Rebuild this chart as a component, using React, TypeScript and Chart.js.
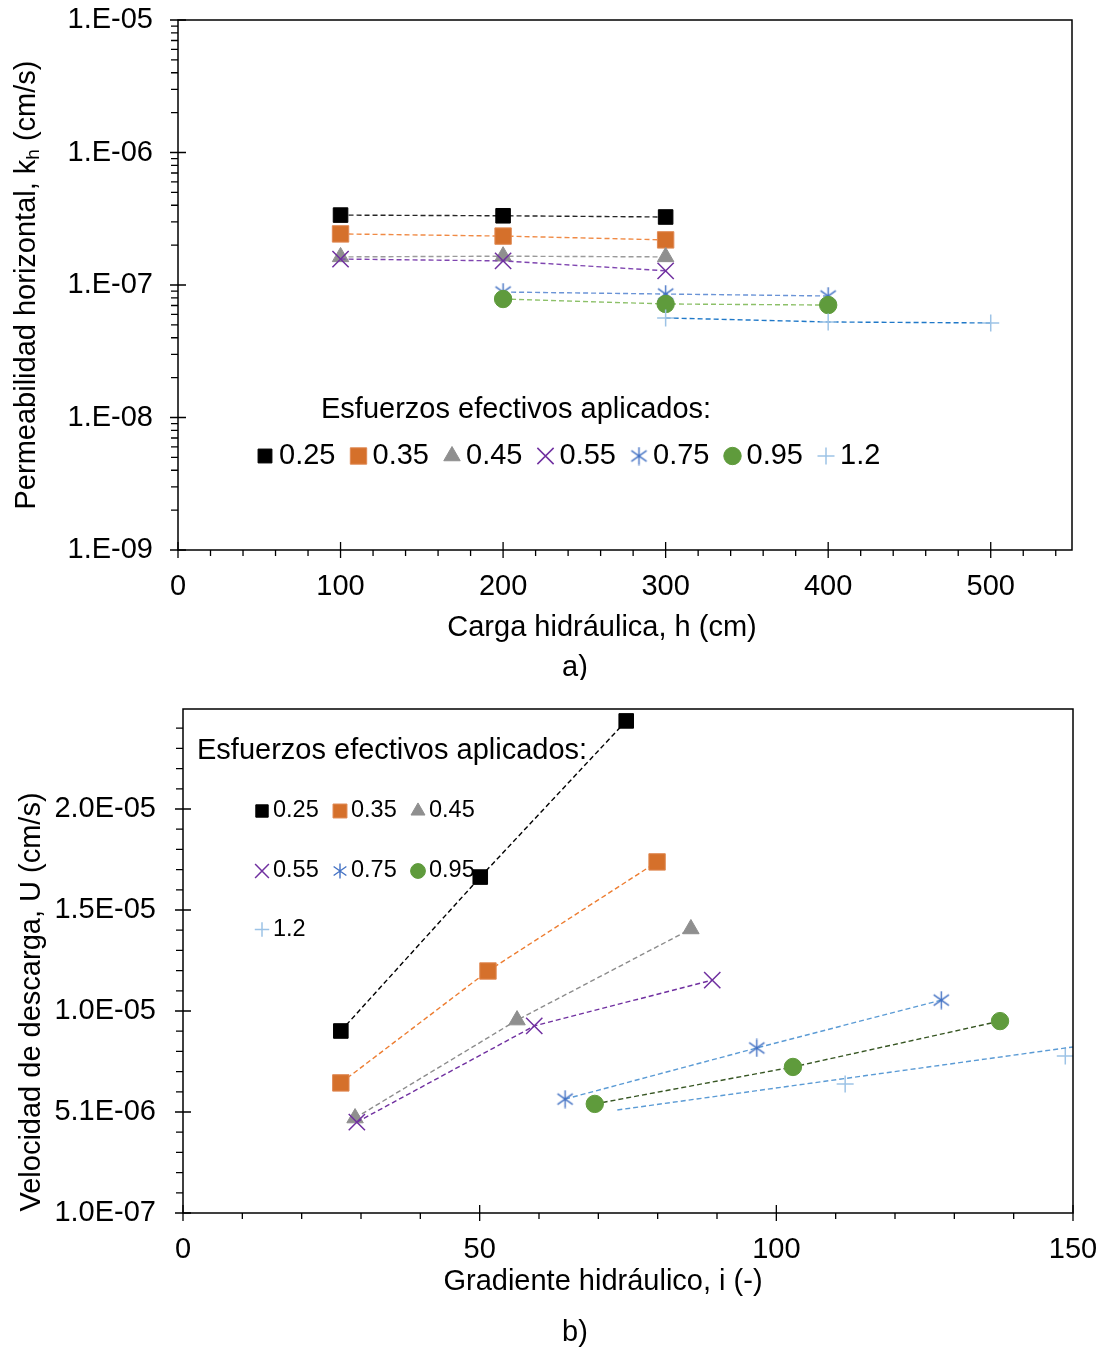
import React, { useEffect, useRef } from 'react';
import { Chart, registerables } from 'chart.js';
import { drawPoint } from 'chart.js/helpers';

Chart.register(...registerables);

const FONT = '"Liberation Sans", Arial, sans-serif';

// ---------------- Data: chart a) ----------------
const stressLabels = ['0.25', '0.35', '0.45', '0.55', '0.75', '0.95', '1.2'];
const headTicks = [0, 100, 200, 300, 400, 500];
const kTicks = [1e-9, 1e-8, 1e-7, 1e-6, 1e-5];

const h025 = [100, 200, 300];
const kh025 = [3.37e-7, 3.33e-7, 3.26e-7];
const h035 = [100, 200, 300];
const kh035 = [2.43e-7, 2.34e-7, 2.19e-7];
const h045 = [100, 200, 300];
const kh045 = [1.63e-7, 1.65e-7, 1.63e-7];
const h055 = [100, 200, 300];
const kh055 = [1.57e-7, 1.52e-7, 1.28e-7];
const h075 = [200, 300, 400];
const kh075 = [8.85e-8, 8.55e-8, 8.26e-8];
const h095 = [200, 300, 400];
const kh095 = [7.84e-8, 7.19e-8, 7.06e-8];
const h12 = [300, 400, 500];
const kh12 = [5.64e-8, 5.26e-8, 5.17e-8];

// ---------------- Data: chart b) ----------------
const gradTicks = [0, 50, 100, 150];
const uTicks = [1e-7, 5.1e-6, 1.01e-5, 1.51e-5, 2.01e-5];

const i025 = [26.6, 50.1, 74.7];
const U025 = [9.11e-6, 1.673e-5, 2.446e-5];
const i035 = [26.6, 51.4, 79.9];
const U035 = [6.54e-6, 1.208e-5, 1.748e-5];
const i045 = [29.0, 56.3, 85.6];
const U045 = [4.8e-6, 9.65e-6, 1.416e-5];
const i055 = [29.3, 59.2, 89.2];
const U055 = [4.6e-6, 9.36e-6, 1.163e-5];
const i075 = [64.4, 96.7, 127.8];
const U075 = [5.74e-6, 8.27e-6, 1.064e-5];
const i095 = [69.4, 102.8, 137.7];
const U095 = [5.5e-6, 7.33e-6, 9.6e-6];
const i12 = [111.6, 148.7];
const U12 = [6.49e-6, 7.87e-6];
const i12Line = [73.2, 150];
const U12Line = [5.2e-6, 8.32e-6];

// ---------------- helpers ----------------
const pts = (xs: number[], ys: number[]) => xs.map((x, i) => ({ x, y: ys[i] }));

function makeAsterisk(size: number, color: string, lw: number) {
  const c = document.createElement('canvas');
  c.width = size;
  c.height = size;
  const g = c.getContext('2d')!;
  g.strokeStyle = color;
  g.lineWidth = lw;
  const m = size / 2;
  const r = size / 2 - 0.5;
  const dx = r * 0.85;
  const dy = r * 0.6;
  g.beginPath();
  g.moveTo(m, m - r);
  g.lineTo(m, m + r);
  g.moveTo(m - dx, m - dy);
  g.lineTo(m + dx, m + dy);
  g.moveTo(m + dx, m - dy);
  g.lineTo(m - dx, m + dy);
  g.stroke();
  return c;
}

type Mk = { pointStyle: any; radius: number; fill: string; stroke: string; bw: number };

const MK_COLORS = ['#000000', '#D5702B', '#8F8F8F', '#7030A0', '#4472C4', '#5F9B3C', '#9DC3E6'];

function markers(scale: number): Mk[] {
  return [
    { pointStyle: 'rect', radius: 10.3 * scale, fill: MK_COLORS[0], stroke: MK_COLORS[0], bw: 1 },
    { pointStyle: 'rect', radius: 11.6 * scale, fill: MK_COLORS[1], stroke: '#E08A55', bw: 1 },
    { pointStyle: 'triangle', radius: 9.5 * scale, fill: MK_COLORS[2], stroke: MK_COLORS[2], bw: 1 },
    { pointStyle: 'crossRot', radius: 11.5 * scale, fill: 'rgba(0,0,0,0)', stroke: MK_COLORS[3], bw: 1.5 },
    { pointStyle: makeAsterisk(Math.round(19 * scale), MK_COLORS[4], 1.4), radius: 9, fill: MK_COLORS[4], stroke: MK_COLORS[4], bw: 0 },
    { pointStyle: 'circle', radius: 8.7 * scale, fill: MK_COLORS[5], stroke: MK_COLORS[5], bw: 1 },
    { pointStyle: 'cross', radius: 8.5 * scale, fill: 'rgba(0,0,0,0)', stroke: MK_COLORS[6], bw: 1.5 },
  ];
}

function seriesDs(label: string, xs: number[], ys: number[], mk: Mk, lineColor: string, order: number) {
  return {
    label,
    data: pts(xs, ys),
    showLine: true,
    borderColor: lineColor,
    borderWidth: 1.4,
    borderDash: [5, 3],
    backgroundColor: mk.fill,
    pointStyle: mk.pointStyle,
    pointRadius: mk.radius,
    pointBackgroundColor: mk.fill,
    pointBorderColor: mk.stroke,
    pointBorderWidth: mk.bw,
    fill: false,
    order,
  };
}

function fmtLog(v: number) {
  const e = Math.round(Math.log10(v));
  const m = Math.round(v / Math.pow(10, e));
  const s = e < 0 ? '-' : '+';
  return `${m}.E${s}${String(Math.abs(e)).padStart(2, '0')}`;
}

function fmtSci(v: number) {
  const t = v.toExponential(1);
  const [mant, exp] = t.split('e');
  const n = parseInt(exp, 10);
  return `${mant}E${n < 0 ? '-' : '+'}${String(Math.abs(n)).padStart(2, '0')}`;
}

type TextPart = { text: string; sub?: boolean };
type LegendItem = { label: string; x: number; y: number; mk: Mk };
type Decor = {
  xMajor: number[];
  xMinor: number[];
  yMajor: number[];
  yMinor: number[];
  yTitle: TextPart[];
  yTitleX: number;
  yTitleY: number;
  xTitle: string;
  xTitleX: number;
  xTitleY: number;
  tag: string;
  tagX: number;
  tagY: number;
  legTitle: string;
  legTitleX: number;
  legTitleY: number;
  legItems: LegendItem[];
  legFont: number;
  legLabelOffset: number;
};

function decorPlugin(d: Decor) {
  return {
    id: 'decor',
    afterDraw(chart: any) {
      const { ctx, chartArea: a } = chart;
      const xs = chart.scales.x;
      const ys = chart.scales.y;
      ctx.save();
      ctx.strokeStyle = '#000';
      ctx.lineWidth = 1.3;
      ctx.beginPath();
      for (const v of d.xMajor) {
        const p = xs.getPixelForValue(v);
        ctx.moveTo(p, a.bottom - 8);
        ctx.lineTo(p, a.bottom + 8);
      }
      for (const v of d.xMinor) {
        const p = xs.getPixelForValue(v);
        ctx.moveTo(p, a.bottom);
        ctx.lineTo(p, a.bottom + 6);
      }
      for (const v of d.yMajor) {
        const p = ys.getPixelForValue(v);
        ctx.moveTo(a.left - 8, p);
        ctx.lineTo(a.left + 8, p);
      }
      for (const v of d.yMinor) {
        const p = ys.getPixelForValue(v);
        ctx.moveTo(a.left - 7, p);
        ctx.lineTo(a.left, p);
      }
      ctx.stroke();
      ctx.lineWidth = 1.5;
      ctx.strokeRect(a.left, a.top, a.right - a.left, a.bottom - a.top);

      ctx.fillStyle = '#000';
      // y title (rotated)
      ctx.save();
      ctx.translate(d.yTitleX, d.yTitleY);
      ctx.rotate(-Math.PI / 2);
      ctx.textBaseline = 'middle';
      ctx.textAlign = 'left';
      const mainF = `29px ${FONT}`;
      const subF = `19px ${FONT}`;
      let total = 0;
      for (const part of d.yTitle) {
        ctx.font = part.sub ? subF : mainF;
        total += ctx.measureText(part.text).width;
      }
      let cx = -total / 2;
      for (const part of d.yTitle) {
        ctx.font = part.sub ? subF : mainF;
        ctx.fillText(part.text, cx, part.sub ? 7 : 0);
        cx += ctx.measureText(part.text).width;
      }
      ctx.restore();

      // x title and tag
      ctx.font = `29px ${FONT}`;
      ctx.textAlign = 'center';
      ctx.textBaseline = 'middle';
      ctx.fillText(d.xTitle, d.xTitleX, d.xTitleY);
      ctx.fillText(d.tag, d.tagX, d.tagY);

      // legend
      ctx.textAlign = 'left';
      ctx.fillText(d.legTitle, d.legTitleX, d.legTitleY);
      ctx.font = `${d.legFont}px ${FONT}`;
      for (const it of d.legItems) {
        ctx.save();
        ctx.fillStyle = it.mk.fill;
        ctx.strokeStyle = it.mk.stroke;
        ctx.lineWidth = it.mk.bw || 1;
        drawPoint(ctx, { pointStyle: it.mk.pointStyle, rotation: 0, radius: it.mk.radius, borderWidth: it.mk.bw }, it.x, it.y);
        ctx.restore();
        ctx.fillStyle = '#000';
        ctx.fillText(it.label, it.x + d.legLabelOffset, it.y);
      }
      ctx.restore();
    },
  };
}

function axisFont() {
  return { family: FONT, size: 29 };
}

// ---------------- Chart a) ----------------
function configA() {
  const mk = markers(1);
  const lines = ['#262626', '#F08A45', '#9A9A9A', '#7F45B0', '#6A93D6', '#8CC068', '#1F78C8'];
  const xsArr = [h025, h035, h045, h055, h075, h095, h12];
  const ysArr = [kh025, kh035, kh045, kh055, kh075, kh095, kh12];
  const datasets = stressLabels.map((l, i) => seriesDs(l, xsArr[i], ysArr[i], mk[i], lines[i], 20 - i));

  const xMinor: number[] = [];
  for (let v = 20; v <= 540; v += 20) if (v % 100 !== 0) xMinor.push(v);
  const yMinor: number[] = [];
  for (let e = -9; e < -5; e++) for (let m = 2; m <= 9; m++) yMinor.push(m * Math.pow(10, e));

  const lmk = markers(1);
  lmk[0] = { ...lmk[0], radius: 9.8 };
  const legItems: LegendItem[] = stressLabels.map((l, i) => ({ label: l, x: 265 + i * 93.5, y: 456, mk: lmk[i] }));

  const decor = decorPlugin({
    xMajor: headTicks,
    xMinor,
    yMajor: kTicks,
    yMinor,
    yTitle: [{ text: 'Permeabilidad horizontal, k' }, { text: 'h', sub: true }, { text: ' (cm/s)' }],
    yTitleX: 27,
    yTitleY: 285,
    xTitle: 'Carga hidráulica, h (cm)',
    xTitleX: 602,
    xTitleY: 628,
    tag: 'a)',
    tagX: 575,
    tagY: 668,
    legTitle: 'Esfuerzos efectivos aplicados:',
    legTitleX: 321,
    legTitleY: 410,
    legItems,
    legFont: 29,
    legLabelOffset: 14,
  });

  return {
    type: 'scatter' as const,
    data: { datasets },
    options: {
      responsive: false,
      animation: false as const,
      devicePixelRatio: 1,
      events: [],
      layout: { padding: { left: 0, top: 20, right: 30, bottom: 0 } },
      plugins: { legend: { display: false }, tooltip: { enabled: false } },
      scales: {
        x: {
          type: 'linear' as const,
          min: 0,
          max: 550,
          afterBuildTicks: (s: any) => {
            s.ticks = headTicks.map((v) => ({ value: v }));
          },
          afterFit: (s: any) => {
            s.height = 130;
            s.paddingLeft = 0;
            s.paddingRight = 0;
          },
          grid: { display: false, drawTicks: false },
          border: { display: false },
          ticks: { font: axisFont(), color: '#000', padding: 20, maxRotation: 0, autoSkip: false },
        },
        y: {
          type: 'logarithmic' as const,
          min: 1e-9,
          max: 1e-5,
          afterBuildTicks: (s: any) => {
            s.ticks = kTicks.map((v) => ({ value: v }));
          },
          afterFit: (s: any) => {
            s.width = 178;
            s.paddingTop = 0;
            s.paddingBottom = 0;
          },
          grid: { display: false, drawTicks: false },
          border: { display: false },
          ticks: { font: axisFont(), color: '#000', padding: 25, autoSkip: false, callback: (v: any) => fmtLog(Number(v)) },
        },
      },
    },
    plugins: [decor],
  };
}

// ---------------- Chart b) ----------------
function configB() {
  const mk = markers(1);
  const lines = ['#000000', '#ED7D31', '#8C8C8C', '#7030A0', '#5B9BD5', '#375623', '#5B9BD5'];
  const xsArr = [i025, i035, i045, i055, i075, i095, i12];
  const ysArr = [U025, U035, U045, U055, U075, U095, U12];
  const datasets: any[] = stressLabels.map((l, i) => seriesDs(l, xsArr[i], ysArr[i], mk[i], lines[i], 20 - i));
  // series 1.2: markers only, plus its separate dashed line
  datasets[6].showLine = false;
  datasets.push({
    label: '1.2 línea',
    data: pts(i12Line, U12Line),
    showLine: true,
    borderColor: '#5B9BD5',
    borderWidth: 1.4,
    borderDash: [5, 3],
    pointRadius: 0,
    fill: false,
    order: 12,
  });

  const xMinor: number[] = [];
  for (let v = 10; v < 150; v += 10) if (v % 50 !== 0) xMinor.push(v);
  const yMinor: number[] = [];
  for (let k = 1; k <= 24; k++) if (k % 5 !== 0) yMinor.push(1e-7 + k * 1e-6);

  const lmk = markers(0.85);
  const colX = [262, 340, 418];
  const rowY = [131, 191, 249.5];
  const legItems: LegendItem[] = stressLabels.map((l, i) => ({
    label: l,
    x: colX[i % 3],
    y: rowY[Math.floor(i / 3)],
    mk: lmk[i],
  }));

  const decor = decorPlugin({
    xMajor: gradTicks,
    xMinor,
    yMajor: uTicks,
    yMinor,
    yTitle: [{ text: 'Velocidad de descarga, U (cm/s)' }],
    yTitleX: 32,
    yTitleY: 322,
    xTitle: 'Gradiente hidráulico, i (-)',
    xTitleX: 603,
    xTitleY: 602,
    tag: 'b)',
    tagX: 575,
    tagY: 653,
    legTitle: 'Esfuerzos efectivos aplicados:',
    legTitleX: 197,
    legTitleY: 71,
    legItems,
    legFont: 23.5,
    legLabelOffset: 11,
  });

  return {
    type: 'scatter' as const,
    data: { datasets },
    options: {
      responsive: false,
      animation: false as const,
      devicePixelRatio: 1,
      events: [],
      layout: { padding: { left: 0, top: 29, right: 29, bottom: 0 } },
      plugins: { legend: { display: false }, tooltip: { enabled: false } },
      scales: {
        x: {
          type: 'linear' as const,
          min: 0,
          max: 150,
          afterBuildTicks: (s: any) => {
            s.ticks = gradTicks.map((v) => ({ value: v }));
          },
          afterFit: (s: any) => {
            s.height = 135;
            s.paddingLeft = 0;
            s.paddingRight = 0;
          },
          grid: { display: false, drawTicks: false },
          border: { display: false },
          ticks: { font: axisFont(), color: '#000', padding: 20, maxRotation: 0, autoSkip: false },
        },
        y: {
          type: 'linear' as const,
          min: 1e-7,
          max: 2.505e-5,
          afterBuildTicks: (s: any) => {
            s.ticks = uTicks.map((v) => ({ value: v }));
          },
          afterFit: (s: any) => {
            s.width = 183;
            s.paddingTop = 0;
            s.paddingBottom = 0;
          },
          grid: { display: false, drawTicks: false },
          border: { display: false },
          ticks: { font: axisFont(), color: '#000', padding: 27, autoSkip: false, callback: (v: any) => fmtSci(Number(v)) },
        },
      },
    },
    plugins: [decor],
  };
}

function ChartCanvas({ make, width, height, top }: { make: () => any; width: number; height: number; top: number }) {
  const ref = useRef<HTMLCanvasElement>(null);
  useEffect(() => {
    const chart = new Chart(ref.current as HTMLCanvasElement, make());
    return () => chart.destroy();
  }, []);
  return (
    <canvas
      ref={ref}
      width={width}
      height={height}
      style={{ position: 'absolute', left: 0, top, width, height, display: 'block' }}
    />
  );
}

export default function App() {
  return (
    <div style={{ position: 'absolute', left: 0, top: 0, width: 1102, height: 1348, background: '#fff' }}>
      <ChartCanvas make={configA} width={1102} height={680} top={0} />
      <ChartCanvas make={configB} width={1102} height={668} top={680} />
    </div>
  );
}
